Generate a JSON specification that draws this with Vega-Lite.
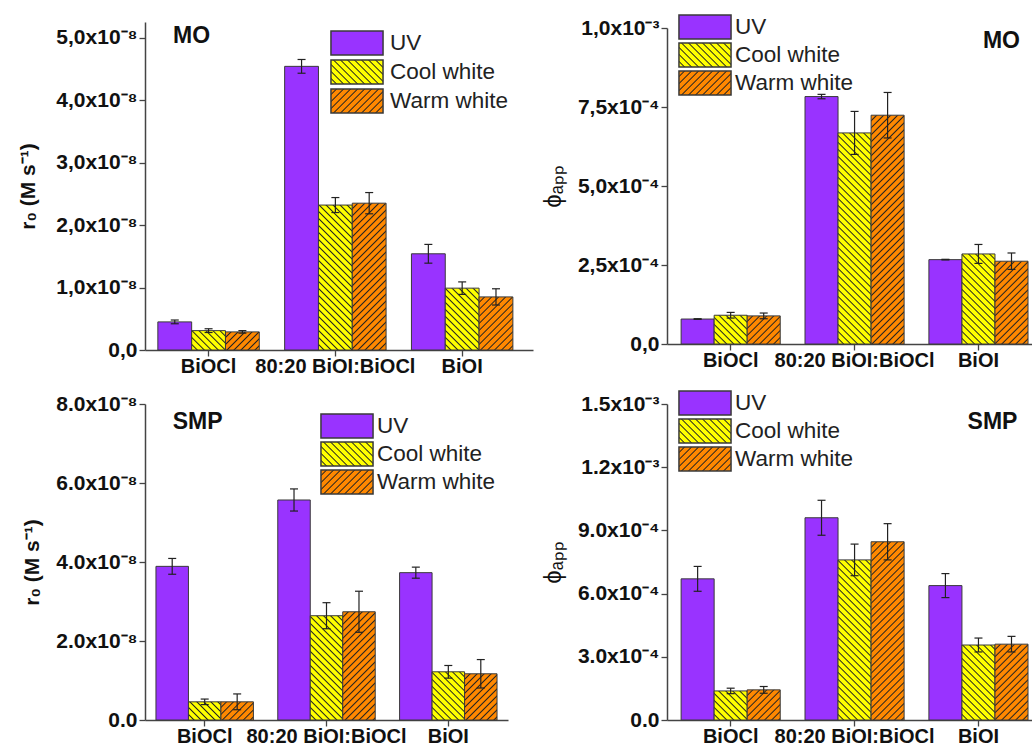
{
"$schema": "https://vega.github.io/schema/vega-lite/v6.json",
"background": "white",
"padding": {"left": 17, "top": 14, "right": 0, "bottom": 0},
"params": [
{"name": "hatchCool", "value": [
{"offset":0,"color":"#ff0"},{"offset":0.015,"color":"#ff0"},{"offset":0.02,"color":"#222"},
{"offset":0.025,"color":"#ff0"},{"offset":0.04,"color":"#ff0"},{"offset":0.045,"color":"#222"},
{"offset":0.05,"color":"#ff0"},{"offset":0.065,"color":"#ff0"},{"offset":0.07,"color":"#222"},
{"offset":0.075,"color":"#ff0"},{"offset":0.09,"color":"#ff0"},{"offset":0.095,"color":"#222"},
{"offset":0.1,"color":"#ff0"},{"offset":0.115,"color":"#ff0"},{"offset":0.12,"color":"#222"},
{"offset":0.125,"color":"#ff0"},{"offset":0.14,"color":"#ff0"},{"offset":0.145,"color":"#222"},
{"offset":0.15,"color":"#ff0"},{"offset":0.165,"color":"#ff0"},{"offset":0.17,"color":"#222"},
{"offset":0.175,"color":"#ff0"},{"offset":0.19,"color":"#ff0"},{"offset":0.195,"color":"#222"},
{"offset":0.2,"color":"#ff0"},{"offset":0.215,"color":"#ff0"},{"offset":0.22,"color":"#222"},
{"offset":0.225,"color":"#ff0"},{"offset":0.24,"color":"#ff0"},{"offset":0.245,"color":"#222"},
{"offset":0.25,"color":"#ff0"},{"offset":0.265,"color":"#ff0"},{"offset":0.27,"color":"#222"},
{"offset":0.275,"color":"#ff0"},{"offset":0.29,"color":"#ff0"},{"offset":0.295,"color":"#222"},
{"offset":0.3,"color":"#ff0"},{"offset":0.315,"color":"#ff0"},{"offset":0.32,"color":"#222"},
{"offset":0.325,"color":"#ff0"},{"offset":0.34,"color":"#ff0"},{"offset":0.345,"color":"#222"},
{"offset":0.35,"color":"#ff0"},{"offset":0.365,"color":"#ff0"},{"offset":0.37,"color":"#222"},
{"offset":0.375,"color":"#ff0"},{"offset":0.39,"color":"#ff0"},{"offset":0.395,"color":"#222"},
{"offset":0.4,"color":"#ff0"},{"offset":0.415,"color":"#ff0"},{"offset":0.42,"color":"#222"},
{"offset":0.425,"color":"#ff0"},{"offset":0.44,"color":"#ff0"},{"offset":0.445,"color":"#222"},
{"offset":0.45,"color":"#ff0"},{"offset":0.465,"color":"#ff0"},{"offset":0.47,"color":"#222"},
{"offset":0.475,"color":"#ff0"},{"offset":0.49,"color":"#ff0"},{"offset":0.495,"color":"#222"},
{"offset":0.5,"color":"#ff0"},{"offset":0.515,"color":"#ff0"},{"offset":0.52,"color":"#222"},
{"offset":0.525,"color":"#ff0"},{"offset":0.54,"color":"#ff0"},{"offset":0.545,"color":"#222"},
{"offset":0.55,"color":"#ff0"},{"offset":0.565,"color":"#ff0"},{"offset":0.57,"color":"#222"},
{"offset":0.575,"color":"#ff0"},{"offset":0.59,"color":"#ff0"},{"offset":0.595,"color":"#222"},
{"offset":0.6,"color":"#ff0"},{"offset":0.615,"color":"#ff0"},{"offset":0.62,"color":"#222"},
{"offset":0.625,"color":"#ff0"},{"offset":0.64,"color":"#ff0"},{"offset":0.645,"color":"#222"},
{"offset":0.65,"color":"#ff0"},{"offset":0.665,"color":"#ff0"},{"offset":0.67,"color":"#222"},
{"offset":0.675,"color":"#ff0"},{"offset":0.69,"color":"#ff0"},{"offset":0.695,"color":"#222"},
{"offset":0.7,"color":"#ff0"},{"offset":0.715,"color":"#ff0"},{"offset":0.72,"color":"#222"},
{"offset":0.725,"color":"#ff0"},{"offset":0.74,"color":"#ff0"},{"offset":0.745,"color":"#222"},
{"offset":0.75,"color":"#ff0"},{"offset":0.765,"color":"#ff0"},{"offset":0.77,"color":"#222"},
{"offset":0.775,"color":"#ff0"},{"offset":0.79,"color":"#ff0"},{"offset":0.795,"color":"#222"},
{"offset":0.8,"color":"#ff0"},{"offset":0.815,"color":"#ff0"},{"offset":0.82,"color":"#222"},
{"offset":0.825,"color":"#ff0"},{"offset":0.84,"color":"#ff0"},{"offset":0.845,"color":"#222"},
{"offset":0.85,"color":"#ff0"},{"offset":0.865,"color":"#ff0"},{"offset":0.87,"color":"#222"},
{"offset":0.875,"color":"#ff0"},{"offset":0.89,"color":"#ff0"},{"offset":0.895,"color":"#222"},
{"offset":0.9,"color":"#ff0"},{"offset":0.915,"color":"#ff0"},{"offset":0.92,"color":"#222"},
{"offset":0.925,"color":"#ff0"},{"offset":0.94,"color":"#ff0"},{"offset":0.945,"color":"#222"},
{"offset":0.95,"color":"#ff0"},{"offset":0.965,"color":"#ff0"},{"offset":0.97,"color":"#222"},
{"offset":0.975,"color":"#ff0"},{"offset":0.99,"color":"#ff0"},{"offset":0.995,"color":"#222"},
{"offset":1,"color":"#ff0"}
]},
{"name": "hatchWarm", "value": [
{"offset":0,"color":"#f80"},{"offset":0.015,"color":"#f80"},{"offset":0.02,"color":"#222"},
{"offset":0.025,"color":"#f80"},{"offset":0.04,"color":"#f80"},{"offset":0.045,"color":"#222"},
{"offset":0.05,"color":"#f80"},{"offset":0.065,"color":"#f80"},{"offset":0.07,"color":"#222"},
{"offset":0.075,"color":"#f80"},{"offset":0.09,"color":"#f80"},{"offset":0.095,"color":"#222"},
{"offset":0.1,"color":"#f80"},{"offset":0.115,"color":"#f80"},{"offset":0.12,"color":"#222"},
{"offset":0.125,"color":"#f80"},{"offset":0.14,"color":"#f80"},{"offset":0.145,"color":"#222"},
{"offset":0.15,"color":"#f80"},{"offset":0.165,"color":"#f80"},{"offset":0.17,"color":"#222"},
{"offset":0.175,"color":"#f80"},{"offset":0.19,"color":"#f80"},{"offset":0.195,"color":"#222"},
{"offset":0.2,"color":"#f80"},{"offset":0.215,"color":"#f80"},{"offset":0.22,"color":"#222"},
{"offset":0.225,"color":"#f80"},{"offset":0.24,"color":"#f80"},{"offset":0.245,"color":"#222"},
{"offset":0.25,"color":"#f80"},{"offset":0.265,"color":"#f80"},{"offset":0.27,"color":"#222"},
{"offset":0.275,"color":"#f80"},{"offset":0.29,"color":"#f80"},{"offset":0.295,"color":"#222"},
{"offset":0.3,"color":"#f80"},{"offset":0.315,"color":"#f80"},{"offset":0.32,"color":"#222"},
{"offset":0.325,"color":"#f80"},{"offset":0.34,"color":"#f80"},{"offset":0.345,"color":"#222"},
{"offset":0.35,"color":"#f80"},{"offset":0.365,"color":"#f80"},{"offset":0.37,"color":"#222"},
{"offset":0.375,"color":"#f80"},{"offset":0.39,"color":"#f80"},{"offset":0.395,"color":"#222"},
{"offset":0.4,"color":"#f80"},{"offset":0.415,"color":"#f80"},{"offset":0.42,"color":"#222"},
{"offset":0.425,"color":"#f80"},{"offset":0.44,"color":"#f80"},{"offset":0.445,"color":"#222"},
{"offset":0.45,"color":"#f80"},{"offset":0.465,"color":"#f80"},{"offset":0.47,"color":"#222"},
{"offset":0.475,"color":"#f80"},{"offset":0.49,"color":"#f80"},{"offset":0.495,"color":"#222"},
{"offset":0.5,"color":"#f80"},{"offset":0.515,"color":"#f80"},{"offset":0.52,"color":"#222"},
{"offset":0.525,"color":"#f80"},{"offset":0.54,"color":"#f80"},{"offset":0.545,"color":"#222"},
{"offset":0.55,"color":"#f80"},{"offset":0.565,"color":"#f80"},{"offset":0.57,"color":"#222"},
{"offset":0.575,"color":"#f80"},{"offset":0.59,"color":"#f80"},{"offset":0.595,"color":"#222"},
{"offset":0.6,"color":"#f80"},{"offset":0.615,"color":"#f80"},{"offset":0.62,"color":"#222"},
{"offset":0.625,"color":"#f80"},{"offset":0.64,"color":"#f80"},{"offset":0.645,"color":"#222"},
{"offset":0.65,"color":"#f80"},{"offset":0.665,"color":"#f80"},{"offset":0.67,"color":"#222"},
{"offset":0.675,"color":"#f80"},{"offset":0.69,"color":"#f80"},{"offset":0.695,"color":"#222"},
{"offset":0.7,"color":"#f80"},{"offset":0.715,"color":"#f80"},{"offset":0.72,"color":"#222"},
{"offset":0.725,"color":"#f80"},{"offset":0.74,"color":"#f80"},{"offset":0.745,"color":"#222"},
{"offset":0.75,"color":"#f80"},{"offset":0.765,"color":"#f80"},{"offset":0.77,"color":"#222"},
{"offset":0.775,"color":"#f80"},{"offset":0.79,"color":"#f80"},{"offset":0.795,"color":"#222"},
{"offset":0.8,"color":"#f80"},{"offset":0.815,"color":"#f80"},{"offset":0.82,"color":"#222"},
{"offset":0.825,"color":"#f80"},{"offset":0.84,"color":"#f80"},{"offset":0.845,"color":"#222"},
{"offset":0.85,"color":"#f80"},{"offset":0.865,"color":"#f80"},{"offset":0.87,"color":"#222"},
{"offset":0.875,"color":"#f80"},{"offset":0.89,"color":"#f80"},{"offset":0.895,"color":"#222"},
{"offset":0.9,"color":"#f80"},{"offset":0.915,"color":"#f80"},{"offset":0.92,"color":"#222"},
{"offset":0.925,"color":"#f80"},{"offset":0.94,"color":"#f80"},{"offset":0.945,"color":"#222"},
{"offset":0.95,"color":"#f80"},{"offset":0.965,"color":"#f80"},{"offset":0.97,"color":"#222"},
{"offset":0.975,"color":"#f80"},{"offset":0.99,"color":"#f80"},{"offset":0.995,"color":"#222"},
{"offset":1,"color":"#f80"}
]}
],
"datasets": {
"moR": [
{"cat":"BiOCl","light":"UV","v":4.5e-9,"lo":4.2e-9,"hi":4.8e-9},
{"cat":"BiOCl","light":"Cool white","v":3.1e-9,"lo":2.8e-9,"hi":3.4e-9},
{"cat":"BiOCl","light":"Warm white","v":2.9e-9,"lo":2.7e-9,"hi":3.1e-9},
{"cat":"80:20 BiOI:BiOCl","light":"UV","v":4.54e-8,"lo":4.43e-8,"hi":4.65e-8},
{"cat":"80:20 BiOI:BiOCl","light":"Cool white","v":2.32e-8,"lo":2.2e-8,"hi":2.44e-8},
{"cat":"80:20 BiOI:BiOCl","light":"Warm white","v":2.35e-8,"lo":2.18e-8,"hi":2.52e-8},
{"cat":"BiOI","light":"UV","v":1.54e-8,"lo":1.39e-8,"hi":1.69e-8},
{"cat":"BiOI","light":"Cool white","v":9.9e-9,"lo":8.9e-9,"hi":1.09e-8},
{"cat":"BiOI","light":"Warm white","v":8.5e-9,"lo":7.2e-9,"hi":9.8e-9}
],
"moP": [
{"cat":"BiOCl","light":"UV","v":7.9e-5,"lo":7.8e-5,"hi":8.0e-5},
{"cat":"BiOCl","light":"Cool white","v":9.1e-5,"lo":8.2e-5,"hi":1.0e-4},
{"cat":"BiOCl","light":"Warm white","v":8.9e-5,"lo":8.0e-5,"hi":9.8e-5},
{"cat":"80:20 BiOI:BiOCl","light":"UV","v":7.83e-4,"lo":7.76e-4,"hi":7.9e-4},
{"cat":"80:20 BiOI:BiOCl","light":"Cool white","v":6.68e-4,"lo":6.0e-4,"hi":7.36e-4},
{"cat":"80:20 BiOI:BiOCl","light":"Warm white","v":7.24e-4,"lo":6.52e-4,"hi":7.96e-4},
{"cat":"BiOI","light":"UV","v":2.67e-4,"lo":2.66e-4,"hi":2.68e-4},
{"cat":"BiOI","light":"Cool white","v":2.85e-4,"lo":2.55e-4,"hi":3.15e-4},
{"cat":"BiOI","light":"Warm white","v":2.62e-4,"lo":2.36e-4,"hi":2.88e-4}
],
"smpR": [
{"cat":"BiOCl","light":"UV","v":3.89e-8,"lo":3.69e-8,"hi":4.09e-8},
{"cat":"BiOCl","light":"Cool white","v":4.6e-9,"lo":3.9e-9,"hi":5.3e-9},
{"cat":"BiOCl","light":"Warm white","v":4.6e-9,"lo":2.6e-9,"hi":6.6e-9},
{"cat":"80:20 BiOI:BiOCl","light":"UV","v":5.57e-8,"lo":5.29e-8,"hi":5.85e-8},
{"cat":"80:20 BiOI:BiOCl","light":"Cool white","v":2.64e-8,"lo":2.31e-8,"hi":2.97e-8},
{"cat":"80:20 BiOI:BiOCl","light":"Warm white","v":2.74e-8,"lo":2.22e-8,"hi":3.26e-8},
{"cat":"BiOI","light":"UV","v":3.73e-8,"lo":3.59e-8,"hi":3.87e-8},
{"cat":"BiOI","light":"Cool white","v":1.22e-8,"lo":1.06e-8,"hi":1.38e-8},
{"cat":"BiOI","light":"Warm white","v":1.17e-8,"lo":8.1e-9,"hi":1.53e-8}
],
"smpP": [
{"cat":"BiOCl","light":"UV","v":6.7e-4,"lo":6.11e-4,"hi":7.29e-4},
{"cat":"BiOCl","light":"Cool white","v":1.38e-4,"lo":1.25e-4,"hi":1.51e-4},
{"cat":"BiOCl","light":"Warm white","v":1.43e-4,"lo":1.27e-4,"hi":1.59e-4},
{"cat":"80:20 BiOI:BiOCl","light":"UV","v":9.6e-4,"lo":8.77e-4,"hi":1.043e-3},
{"cat":"80:20 BiOI:BiOCl","light":"Cool white","v":7.6e-4,"lo":6.85e-4,"hi":8.35e-4},
{"cat":"80:20 BiOI:BiOCl","light":"Warm white","v":8.46e-4,"lo":7.6e-4,"hi":9.32e-4},
{"cat":"BiOI","light":"UV","v":6.38e-4,"lo":5.81e-4,"hi":6.95e-4},
{"cat":"BiOI","light":"Cool white","v":3.56e-4,"lo":3.23e-4,"hi":3.89e-4},
{"cat":"BiOI","light":"Warm white","v":3.6e-4,"lo":3.23e-4,"hi":3.97e-4}
]
},
"columns": 2,
"spacing": {"row": 54, "column": 134},
"bounds": "flush",
"center": {"row": true},
"resolve": {"scale": {"shape": "independent", "xOffset": "independent"}, "legend": {"shape": "independent"}},
"concat": [
{
"width": 388, "height": 328,
"data": {"name": "moR"},
"layer": [
{"mark": {"type": "bar", "stroke": "#3a3a3a", "strokeWidth": 1,
  "fill": {"expr": "datum.light == 'UV' ? '#9933ff' : {gradient: 'linear', x1: 0, y1: datum.light == 'Cool white' ? 1 : 0, x2: 9464/(1142.44 + pow(datum.v*6.2476e9, 2)), y2: datum.light == 'Cool white' ? 1 - 280*datum.v*6.2476e9/(1142.44 + pow(datum.v*6.2476e9, 2)) : 280*datum.v*6.2476e9/(1142.44 + pow(datum.v*6.2476e9, 2)), stops: datum.light == 'Cool white' ? hatchCool : hatchWarm}"}},
 "encoding": {
  "x": {"field": "cat", "type": "nominal", "sort": ["BiOCl","80:20 BiOI:BiOCl","BiOI"], "scale": {"paddingInner": 0.2, "paddingOuter": 0.13, "align": 0.39}, "axis": {"title": null, "labelAngle": 0, "tickSize": 6, "labelPadding": 0}},
  "xOffset": {"field": "light", "type": "nominal", "sort": ["UV","Cool white","Warm white"], "scale": {"paddingInner": 0, "paddingOuter": 0}},
  "y": {"field": "v", "type": "quantitative", "scale": {"domain": [0, 5.25e-8], "nice": false},
   "axis": {"title": "r₀ (M s⁻¹)", "titleFontSize": 21, "titleFontWeight": "bold", "titleX": -117, "titleBaseline": "middle", "labelFontSize": 21,
    "values": [0,5e-9,1e-8,1.5e-8,2e-8,2.5e-8,3e-8,3.5e-8,4e-8,4.5e-8,5e-8],
    "labelExpr": "datum.value == 0 ? '0,0' : round(datum.value/5e-9) % 2 == 1 ? '' : replace(format(datum.value*1e8, '.1f'), '.', ',') + 'x10⁻⁸'",
    "tickSize": {"condition": {"test": "round(datum.value/5e-9) % 2 == 1", "value": 3}, "value": 6}}}
 }},
{"mark": {"type": "rule", "color": "#222", "strokeWidth": 1.2},
 "encoding": {"x": {"field": "cat", "type": "nominal", "sort": ["BiOCl","80:20 BiOI:BiOCl","BiOI"]}, "xOffset": {"field": "light", "type": "nominal", "sort": ["UV","Cool white","Warm white"]}, "y": {"field": "lo", "type": "quantitative"}, "y2": {"field": "hi"}}},
{"mark": {"type": "tick", "orient": "horizontal", "size": 8, "thickness": 1.2, "color": "#222", "opacity": 1},
 "encoding": {"x": {"field": "cat", "type": "nominal", "sort": ["BiOCl","80:20 BiOI:BiOCl","BiOI"]}, "xOffset": {"field": "light", "type": "nominal", "sort": ["UV","Cool white","Warm white"]}, "y": {"field": "lo", "type": "quantitative"}}},
{"mark": {"type": "tick", "orient": "horizontal", "size": 8, "thickness": 1.2, "color": "#222", "opacity": 1},
 "encoding": {"x": {"field": "cat", "type": "nominal", "sort": ["BiOCl","80:20 BiOI:BiOCl","BiOI"]}, "xOffset": {"field": "light", "type": "nominal", "sort": ["UV","Cool white","Warm white"]}, "y": {"field": "hi", "type": "quantitative"}}},
{"mark": {"type": "point", "filled": true, "opacity": 0, "stroke": "#3a3a3a", "strokeWidth": 1.5,
  "fill": {"expr": "datum.value == 'UV' ? '#9933ff' : datum.value == 'Cool white' ? {gradient: 'linear', x1: 0, y1: 1, x2: 4.439, y2: -1.049, stops: hatchCool} : {gradient: 'linear', x1: 0, y1: 0, x2: 4.439, y2: 2.049, stops: hatchWarm}"}},
 "encoding": {"x": {"field": "cat", "type": "nominal", "sort": ["BiOCl","80:20 BiOI:BiOCl","BiOI"]}, "xOffset": {"field": "light", "type": "nominal", "sort": ["UV","Cool white","Warm white"]}, "y": {"field": "v", "type": "quantitative"},
  "shape": {"field": "light", "type": "nominal", "scale": {"domain": ["UV","Cool white","Warm white"], "range": ["M-2.17,-1H2.17V1H-2.17Z","M-2.17,-1H2.17V1H-2.17Z","M-2.17,-1H2.17V1H-2.17Z"]},
   "legend": {"title": null, "orient": "none", "legendX": 199, "legendY": 8, "direction": "vertical", "padding": 0, "symbolSize": 576, "symbolOpacity": 1, "symbolStrokeWidth": 1.5, "labelFontSize": 22.5, "labelFont": "Liberation Sans", "labelColor": "#222", "labelOffset": 20, "rowPadding": -1}}}},
{"data": {"values": [{"t": "MO"}]},
 "mark": {"type": "text", "font": "Liberation Sans", "fontWeight": "bold", "fontSize": 23, "dx": -17, "baseline": "middle", "color": "#111"},
 "encoding": {"x": {"datum": "BiOCl"}, "y": {"datum": 5.03e-8}, "text": {"field": "t"}}}
]
},
{
"width": 365, "height": 316,
"data": {"name": "moP"},
"layer": [
{"mark": {"type": "bar", "stroke": "#3a3a3a", "strokeWidth": 1,
  "fill": {"expr": "datum.light == 'UV' ? '#9933ff' : {gradient: 'linear', x1: 0, y1: datum.light == 'Cool white' ? 1 : 0, x2: 9240/(1089 + pow(datum.v*3.16e5, 2)), y2: datum.light == 'Cool white' ? 1 - 280*datum.v*3.16e5/(1089 + pow(datum.v*3.16e5, 2)) : 280*datum.v*3.16e5/(1089 + pow(datum.v*3.16e5, 2)), stops: datum.light == 'Cool white' ? hatchCool : hatchWarm}"}},
 "encoding": {
  "x": {"field": "cat", "type": "nominal", "sort": ["BiOCl","80:20 BiOI:BiOCl","BiOI"], "scale": {"paddingInner": 0.2, "paddingOuter": 0.073, "align": 0.78}, "axis": {"title": null, "labelAngle": 0, "tickSize": 6, "labelPadding": 0}},
  "xOffset": {"field": "light", "type": "nominal", "sort": ["UV","Cool white","Warm white"], "scale": {"paddingInner": 0, "paddingOuter": 0}},
  "y": {"field": "v", "type": "quantitative", "scale": {"domain": [0, 1e-3], "nice": false},
   "axis": {"title": "ϕₐₚₚ", "titleFontSize": 24, "titleFontWeight": "normal", "titleX": -114, "titleBaseline": "middle", "labelFontSize": 21,
    "values": [0,1.25e-4,2.5e-4,3.75e-4,5e-4,6.25e-4,7.5e-4,8.75e-4,1e-3],
    "labelExpr": "datum.value == 0 ? '0,0' : round(datum.value/1.25e-4) % 2 == 1 ? '' : datum.value > 9e-4 ? '1,0x10⁻³' : replace(format(datum.value*1e4, '.1f'), '.', ',') + 'x10⁻⁴'",
    "tickSize": {"condition": {"test": "round(datum.value/1.25e-4) % 2 == 1", "value": 3}, "value": 6}}}
 }},
{"mark": {"type": "rule", "color": "#222", "strokeWidth": 1.2},
 "encoding": {"x": {"field": "cat", "type": "nominal", "sort": ["BiOCl","80:20 BiOI:BiOCl","BiOI"]}, "xOffset": {"field": "light", "type": "nominal", "sort": ["UV","Cool white","Warm white"]}, "y": {"field": "lo", "type": "quantitative"}, "y2": {"field": "hi"}}},
{"mark": {"type": "tick", "orient": "horizontal", "size": 8, "thickness": 1.2, "color": "#222", "opacity": 1},
 "encoding": {"x": {"field": "cat", "type": "nominal", "sort": ["BiOCl","80:20 BiOI:BiOCl","BiOI"]}, "xOffset": {"field": "light", "type": "nominal", "sort": ["UV","Cool white","Warm white"]}, "y": {"field": "lo", "type": "quantitative"}}},
{"mark": {"type": "tick", "orient": "horizontal", "size": 8, "thickness": 1.2, "color": "#222", "opacity": 1},
 "encoding": {"x": {"field": "cat", "type": "nominal", "sort": ["BiOCl","80:20 BiOI:BiOCl","BiOI"]}, "xOffset": {"field": "light", "type": "nominal", "sort": ["UV","Cool white","Warm white"]}, "y": {"field": "hi", "type": "quantitative"}}},
{"mark": {"type": "point", "filled": true, "opacity": 0, "stroke": "#3a3a3a", "strokeWidth": 1.5,
  "fill": {"expr": "datum.value == 'UV' ? '#9933ff' : datum.value == 'Cool white' ? {gradient: 'linear', x1: 0, y1: 1, x2: 4.439, y2: -1.049, stops: hatchCool} : {gradient: 'linear', x1: 0, y1: 0, x2: 4.439, y2: 2.049, stops: hatchWarm}"}},
 "encoding": {"x": {"field": "cat", "type": "nominal", "sort": ["BiOCl","80:20 BiOI:BiOCl","BiOI"]}, "xOffset": {"field": "light", "type": "nominal", "sort": ["UV","Cool white","Warm white"]}, "y": {"field": "v", "type": "quantitative"},
  "shape": {"field": "light", "type": "nominal", "scale": {"domain": ["UV","Cool white","Warm white"], "range": ["M-2.17,-1H2.17V1H-2.17Z","M-2.17,-1H2.17V1H-2.17Z","M-2.17,-1H2.17V1H-2.17Z"]},
   "legend": {"title": null, "orient": "none", "legendX": 25, "legendY": -14, "direction": "vertical", "padding": 0, "symbolSize": 576, "symbolOpacity": 1, "symbolStrokeWidth": 1.5, "labelFontSize": 22.5, "labelFont": "Liberation Sans", "labelColor": "#222", "labelOffset": 17, "rowPadding": -2}}}},
{"data": {"values": [{"t": "MO"}]},
 "mark": {"type": "text", "font": "Liberation Sans", "fontWeight": "bold", "fontSize": 23, "dx": 23, "baseline": "middle", "color": "#111"},
 "encoding": {"x": {"datum": "BiOI"}, "y": {"datum": 9.59e-4}, "text": {"field": "t"}}}
]
},
{
"width": 363, "height": 316,
"data": {"name": "smpR"},
"layer": [
{"mark": {"type": "bar", "stroke": "#3a3a3a", "strokeWidth": 1,
  "fill": {"expr": "datum.light == 'UV' ? '#9933ff' : {gradient: 'linear', x1: 0, y1: datum.light == 'Cool white' ? 1 : 0, x2: 9100/(1056.25 + pow(datum.v*3.95e9, 2)), y2: datum.light == 'Cool white' ? 1 - 280*datum.v*3.95e9/(1056.25 + pow(datum.v*3.95e9, 2)) : 280*datum.v*3.95e9/(1056.25 + pow(datum.v*3.95e9, 2)), stops: datum.light == 'Cool white' ? hatchCool : hatchWarm}"}},
 "encoding": {
  "x": {"field": "cat", "type": "nominal", "sort": ["BiOCl","80:20 BiOI:BiOCl","BiOI"], "scale": {"paddingInner": 0.2, "paddingOuter": 0.09, "align": 0.5}, "axis": {"title": null, "labelAngle": 0, "tickSize": 6, "labelPadding": 0}},
  "xOffset": {"field": "light", "type": "nominal", "sort": ["UV","Cool white","Warm white"], "scale": {"paddingInner": 0, "paddingOuter": 0}},
  "y": {"field": "v", "type": "quantitative", "scale": {"domain": [0, 8e-8], "nice": false},
   "axis": {"title": "r₀ (M s⁻¹)", "titleFontSize": 21, "titleFontWeight": "bold", "titleX": -113, "titleBaseline": "middle", "labelFontSize": 21,
    "values": [0,1e-8,2e-8,3e-8,4e-8,5e-8,6e-8,7e-8,8e-8],
    "labelExpr": "datum.value == 0 ? '0.0' : round(datum.value/1e-8) % 2 == 1 ? '' : format(datum.value*1e8, '.1f') + 'x10⁻⁸'",
    "tickSize": {"condition": {"test": "round(datum.value/1e-8) % 2 == 1", "value": 3}, "value": 6}}}
 }},
{"mark": {"type": "rule", "color": "#222", "strokeWidth": 1.2},
 "encoding": {"x": {"field": "cat", "type": "nominal", "sort": ["BiOCl","80:20 BiOI:BiOCl","BiOI"]}, "xOffset": {"field": "light", "type": "nominal", "sort": ["UV","Cool white","Warm white"]}, "y": {"field": "lo", "type": "quantitative"}, "y2": {"field": "hi"}}},
{"mark": {"type": "tick", "orient": "horizontal", "size": 8, "thickness": 1.2, "color": "#222", "opacity": 1},
 "encoding": {"x": {"field": "cat", "type": "nominal", "sort": ["BiOCl","80:20 BiOI:BiOCl","BiOI"]}, "xOffset": {"field": "light", "type": "nominal", "sort": ["UV","Cool white","Warm white"]}, "y": {"field": "lo", "type": "quantitative"}}},
{"mark": {"type": "tick", "orient": "horizontal", "size": 8, "thickness": 1.2, "color": "#222", "opacity": 1},
 "encoding": {"x": {"field": "cat", "type": "nominal", "sort": ["BiOCl","80:20 BiOI:BiOCl","BiOI"]}, "xOffset": {"field": "light", "type": "nominal", "sort": ["UV","Cool white","Warm white"]}, "y": {"field": "hi", "type": "quantitative"}}},
{"mark": {"type": "point", "filled": true, "opacity": 0, "stroke": "#3a3a3a", "strokeWidth": 1.5,
  "fill": {"expr": "datum.value == 'UV' ? '#9933ff' : datum.value == 'Cool white' ? {gradient: 'linear', x1: 0, y1: 1, x2: 4.439, y2: -1.049, stops: hatchCool} : {gradient: 'linear', x1: 0, y1: 0, x2: 4.439, y2: 2.049, stops: hatchWarm}"}},
 "encoding": {"x": {"field": "cat", "type": "nominal", "sort": ["BiOCl","80:20 BiOI:BiOCl","BiOI"]}, "xOffset": {"field": "light", "type": "nominal", "sort": ["UV","Cool white","Warm white"]}, "y": {"field": "v", "type": "quantitative"},
  "shape": {"field": "light", "type": "nominal", "scale": {"domain": ["UV","Cool white","Warm white"], "range": ["M-2.17,-1H2.17V1H-2.17Z","M-2.17,-1H2.17V1H-2.17Z","M-2.17,-1H2.17V1H-2.17Z"]},
   "legend": {"title": null, "orient": "none", "legendX": 189, "legendY": 9, "direction": "vertical", "padding": 0, "symbolSize": 576, "symbolOpacity": 1, "symbolStrokeWidth": 1.5, "labelFontSize": 22.5, "labelFont": "Liberation Sans", "labelColor": "#222", "labelOffset": 17, "rowPadding": -2}}}},
{"data": {"values": [{"t": "SMP"}]},
 "mark": {"type": "text", "font": "Liberation Sans", "fontWeight": "bold", "fontSize": 23, "dx": -7, "baseline": "middle", "color": "#111"},
 "encoding": {"x": {"datum": "BiOCl"}, "y": {"datum": 7.55e-8}, "text": {"field": "t"}}}
]
},
{
"width": 365, "height": 316,
"data": {"name": "smpP"},
"layer": [
{"mark": {"type": "bar", "stroke": "#3a3a3a", "strokeWidth": 1,
  "fill": {"expr": "datum.light == 'UV' ? '#9933ff' : {gradient: 'linear', x1: 0, y1: datum.light == 'Cool white' ? 1 : 0, x2: 9240/(1089 + pow(datum.v*2.10667e5, 2)), y2: datum.light == 'Cool white' ? 1 - 280*datum.v*2.10667e5/(1089 + pow(datum.v*2.10667e5, 2)) : 280*datum.v*2.10667e5/(1089 + pow(datum.v*2.10667e5, 2)), stops: datum.light == 'Cool white' ? hatchCool : hatchWarm}"}},
 "encoding": {
  "x": {"field": "cat", "type": "nominal", "sort": ["BiOCl","80:20 BiOI:BiOCl","BiOI"], "scale": {"paddingInner": 0.2, "paddingOuter": 0.073, "align": 0.78}, "axis": {"title": null, "labelAngle": 0, "tickSize": 6, "labelPadding": 0}},
  "xOffset": {"field": "light", "type": "nominal", "sort": ["UV","Cool white","Warm white"], "scale": {"paddingInner": 0, "paddingOuter": 0}},
  "y": {"field": "v", "type": "quantitative", "scale": {"domain": [0, 1.5e-3], "nice": false},
   "axis": {"title": "ϕₐₚₚ", "titleFontSize": 24, "titleFontWeight": "normal", "titleX": -114, "titleBaseline": "middle", "labelFontSize": 21,
    "values": [0,1.5e-4,3e-4,4.5e-4,6e-4,7.5e-4,9e-4,1.05e-3,1.2e-3,1.35e-3,1.5e-3],
    "labelExpr": "datum.value == 0 ? '0.0' : round(datum.value/1.5e-4) % 2 == 1 ? '' : datum.value > 1.1e-3 ? format(datum.value*1e3, '.1f') + 'x10⁻³' : format(datum.value*1e4, '.1f') + 'x10⁻⁴'",
    "tickSize": {"condition": {"test": "round(datum.value/1.5e-4) % 2 == 1", "value": 3}, "value": 6}}}
 }},
{"mark": {"type": "rule", "color": "#222", "strokeWidth": 1.2},
 "encoding": {"x": {"field": "cat", "type": "nominal", "sort": ["BiOCl","80:20 BiOI:BiOCl","BiOI"]}, "xOffset": {"field": "light", "type": "nominal", "sort": ["UV","Cool white","Warm white"]}, "y": {"field": "lo", "type": "quantitative"}, "y2": {"field": "hi"}}},
{"mark": {"type": "tick", "orient": "horizontal", "size": 8, "thickness": 1.2, "color": "#222", "opacity": 1},
 "encoding": {"x": {"field": "cat", "type": "nominal", "sort": ["BiOCl","80:20 BiOI:BiOCl","BiOI"]}, "xOffset": {"field": "light", "type": "nominal", "sort": ["UV","Cool white","Warm white"]}, "y": {"field": "lo", "type": "quantitative"}}},
{"mark": {"type": "tick", "orient": "horizontal", "size": 8, "thickness": 1.2, "color": "#222", "opacity": 1},
 "encoding": {"x": {"field": "cat", "type": "nominal", "sort": ["BiOCl","80:20 BiOI:BiOCl","BiOI"]}, "xOffset": {"field": "light", "type": "nominal", "sort": ["UV","Cool white","Warm white"]}, "y": {"field": "hi", "type": "quantitative"}}},
{"mark": {"type": "point", "filled": true, "opacity": 0, "stroke": "#3a3a3a", "strokeWidth": 1.5,
  "fill": {"expr": "datum.value == 'UV' ? '#9933ff' : datum.value == 'Cool white' ? {gradient: 'linear', x1: 0, y1: 1, x2: 4.439, y2: -1.049, stops: hatchCool} : {gradient: 'linear', x1: 0, y1: 0, x2: 4.439, y2: 2.049, stops: hatchWarm}"}},
 "encoding": {"x": {"field": "cat", "type": "nominal", "sort": ["BiOCl","80:20 BiOI:BiOCl","BiOI"]}, "xOffset": {"field": "light", "type": "nominal", "sort": ["UV","Cool white","Warm white"]}, "y": {"field": "v", "type": "quantitative"},
  "shape": {"field": "light", "type": "nominal", "scale": {"domain": ["UV","Cool white","Warm white"], "range": ["M-2.17,-1H2.17V1H-2.17Z","M-2.17,-1H2.17V1H-2.17Z","M-2.17,-1H2.17V1H-2.17Z"]},
   "legend": {"title": null, "orient": "none", "legendX": 25, "legendY": -14, "direction": "vertical", "padding": 0, "symbolSize": 576, "symbolOpacity": 1, "symbolStrokeWidth": 1.5, "labelFontSize": 22.5, "labelFont": "Liberation Sans", "labelColor": "#222", "labelOffset": 17, "rowPadding": -2.5}}}},
{"data": {"values": [{"t": "SMP"}]},
 "mark": {"type": "text", "font": "Liberation Sans", "fontWeight": "bold", "fontSize": 23, "dx": 14, "baseline": "middle", "color": "#111"},
 "encoding": {"x": {"datum": "BiOI"}, "y": {"datum": 1.416e-3}, "text": {"field": "t"}}}
]
}
],
"config": {
"view": {"stroke": null},
"font": "Liberation Sans",
"axis": {"grid": false, "domainColor": "#444", "tickColor": "#444", "domainWidth": 1.5, "tickWidth": 1.3, "labelColor": "#111", "labelFont": "Liberation Sans", "labelFontWeight": "bold", "labelFontSize": 20, "labelOverlap": false, "labelFlush": false, "labelPadding": 2, "titleColor": "#111", "titleFont": "Liberation Sans"}
}
}
